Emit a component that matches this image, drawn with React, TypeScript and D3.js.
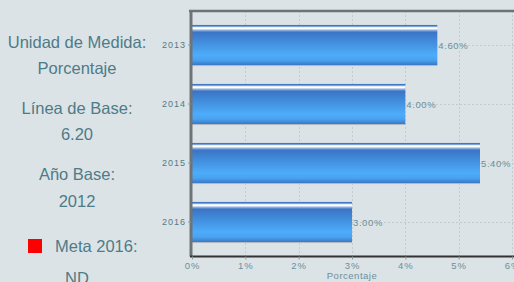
import { useRef, useEffect } from 'react'
import * as d3 from 'd3'

const years = ['2013', '2014', '2015', '2016']
const values = [4.6, 4.0, 5.4, 3.0]
const xTicks = [0, 1, 2, 3, 4, 5, 6]

const infoLines = [
  { text: 'Unidad de Medida:', y: 48 },
  { text: 'Porcentaje', y: 74 },
  { text: 'Línea de Base:', y: 114 },
  { text: '6.20', y: 140 },
  { text: 'Año Base:', y: 180 },
  { text: '2012', y: 207 },
]

const W = 514
const H = 282
const textColor = '#4d7b88'

export default function App() {
  const svgRef = useRef<SVGSVGElement>(null)

  useEffect(() => {
    if (!svgRef.current) return
    const svg = d3.select(svgRef.current)
    svg.selectAll('*').remove()

    const margin = { top: 11, left: 192, right: 2, bottom: 26 }
    const plotBottom = H - margin.bottom + 0.5

    const defs = svg.append('defs')
    const grad = defs.append('linearGradient')
      .attr('id', 'barGrad')
      .attr('x1', 0).attr('y1', 0).attr('x2', 0).attr('y2', 1)
    const stops: [number, string][] = [
      [0, '#3a70c0'],
      [0.03, '#4a80cc'],
      [0.05, '#b8d0ec'],
      [0.07, '#ffffff'],
      [0.1, '#ffffff'],
      [0.12, '#aac4e4'],
      [0.15, '#6f9ad4'],
      [0.18, '#3b74c6'],
      [0.45, '#4290de'],
      [0.75, '#4eacfa'],
      [0.88, '#48a2f0'],
      [1, '#3b76c6'],
    ]
    stops.forEach(([o, c]) => grad.append('stop').attr('offset', o).attr('stop-color', c))

    svg.append('rect').attr('width', W).attr('height', H).attr('fill', '#dce3e6')

    // left info panel
    const info = svg.append('g')
      .attr('font-family', '"Liberation Sans", Arial, sans-serif')
      .attr('font-size', 16.5)
      .attr('fill', textColor)
      .attr('text-anchor', 'middle')
    info.selectAll('text.line')
      .data(infoLines)
      .join('text')
      .attr('class', 'line')
      .attr('x', 77)
      .attr('y', d => d.y)
      .text(d => d.text)
    info.append('rect')
      .attr('x', 28).attr('y', 239).attr('width', 14).attr('height', 14)
      .attr('fill', '#ff0000')
    info.append('text').attr('x', 55).attr('y', 252).attr('text-anchor', 'start').text('Meta 2016:')
    info.append('text').attr('x', 77).attr('y', 284).text('ND')

    const x = d3.scaleLinear().domain([0, 6]).range([margin.left, 512])
    const y = d3.scaleBand<string>()
      .domain(years)
      .range([15.5, 251.5])
      .paddingInner(0.32)
      .paddingOuter(0.16)

    // grid
    const grid = svg.append('g')
      .attr('stroke', '#c4cbce')
      .attr('stroke-width', 1)
      .attr('stroke-dasharray', '2,2')
    grid.selectAll('line.v')
      .data(xTicks.slice(1))
      .join('line')
      .attr('class', 'v')
      .attr('x1', d => Math.round(x(d)) + 0.5)
      .attr('x2', d => Math.round(x(d)) + 0.5)
      .attr('y1', margin.top)
      .attr('y2', plotBottom)
    grid.selectAll('line.h')
      .data(years)
      .join('line')
      .attr('class', 'h')
      .attr('x1', margin.left)
      .attr('x2', W)
      .attr('y1', d => Math.round(y(d)! + y.bandwidth() / 2) + 0.5)
      .attr('y2', d => Math.round(y(d)! + y.bandwidth() / 2) + 0.5)

    // bars
    svg.append('g')
      .selectAll('rect.shadow')
      .data(values)
      .join('rect')
      .attr('class', 'shadow')
      .attr('x', margin.left)
      .attr('y', (_, i) => y(years[i])! + y.bandwidth())
      .attr('width', d => x(d) - margin.left)
      .attr('height', 1)
      .attr('fill', '#b4bcc0')
    svg.append('g')
      .selectAll('rect.bar')
      .data(values)
      .join('rect')
      .attr('class', 'bar')
      .attr('x', margin.left)
      .attr('y', (_, i) => y(years[i])!)
      .attr('width', d => x(d) - margin.left)
      .attr('height', y.bandwidth())
      .attr('fill', 'url(#barGrad)')

    // value labels
    svg.append('g')
      .attr('font-family', '"Liberation Sans", Arial, sans-serif')
      .attr('font-size', 9.5)
      .attr('letter-spacing', 0.6)
      .attr('fill', '#6a8f9a')
      .selectAll('text')
      .data(values)
      .join('text')
      .attr('x', d => x(d) + 1)
      .attr('y', (_, i) => y(years[i])! + y.bandwidth() / 2 + 3.5)
      .text(d => `${d.toFixed(2)}%`)

    // frame top
    svg.append('line')
      .attr('x1', margin.left - 3).attr('x2', W)
      .attr('y1', margin.top).attr('y2', margin.top)
      .attr('stroke', '#6e7376').attr('stroke-width', 2.5)

    // y axis
    const yAxis = svg.append('g')
      .attr('transform', `translate(${margin.left - 1},0)`)
      .call(d3.axisLeft(y).tickSize(3).tickPadding(2))
    yAxis.select('.domain')
      .attr('d', `M0,${margin.top - 1}V${plotBottom}`)
      .attr('stroke', '#6e7376').attr('stroke-width', 3)
    yAxis.selectAll('.tick line').attr('stroke', '#8a9a9f')
    yAxis.selectAll('.tick text')
      .attr('font-family', '"Liberation Sans", Arial, sans-serif')
      .attr('font-size', 9)
      .attr('letter-spacing', 1)
      .attr('fill', textColor)

    // x axis
    const xAxis = svg.append('g')
      .attr('transform', `translate(0,${plotBottom})`)
      .call(d3.axisBottom(x).tickValues(xTicks).tickSize(3).tickPadding(3).tickFormat(d => `${d}%`))
    xAxis.select('.domain')
      .attr('d', `M${margin.left - 2},0H${W}`)
      .attr('stroke', '#333').attr('stroke-width', 2)
    xAxis.selectAll('.tick line').attr('stroke', '#8a9a9f')
    xAxis.selectAll('.tick text')
      .attr('font-family', '"Liberation Sans", Arial, sans-serif')
      .attr('font-size', 9.5)
      .attr('letter-spacing', 1)
      .attr('fill', '#6a8f9a')

    svg.append('text')
      .attr('x', 352)
      .attr('y', 279)
      .attr('text-anchor', 'middle')
      .attr('font-family', '"Liberation Sans", Arial, sans-serif')
      .attr('font-size', 9.5)
      .attr('letter-spacing', 0.5)
      .attr('fill', '#6a8f9a')
      .text('Porcentaje')
  }, [])

  return (
    <div style={{ position: 'fixed', left: 0, top: 0, width: W, height: H }}>
      <svg ref={svgRef} width={W} height={H} style={{ display: 'block' }} />
    </div>
  )
}
